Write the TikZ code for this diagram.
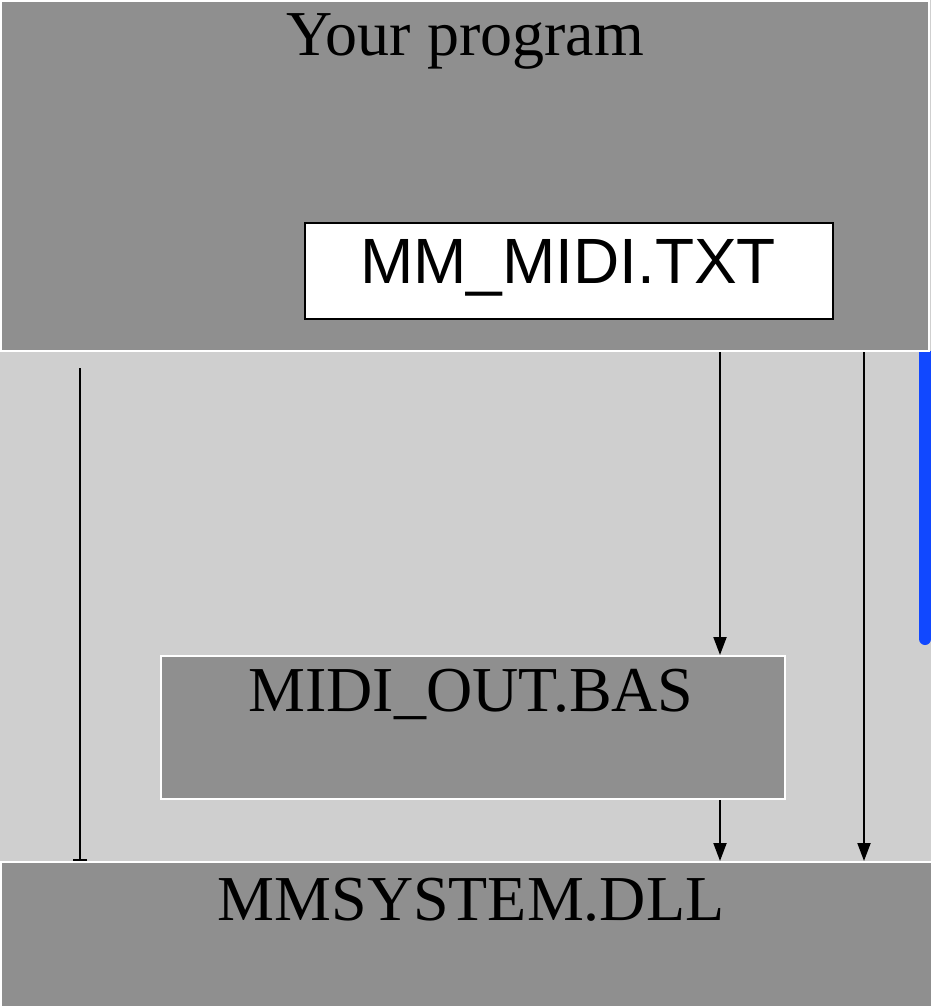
\documentclass[tikz,border=0pt]{standalone}
\usepackage{fontspec}
\setmainfont{Liberation Serif}
\newfontfamily\arialfont{Liberation Sans}
\usetikzlibrary{arrows.meta}
\definecolor{bggray}{HTML}{CFCFCF}
\definecolor{boxgray}{HTML}{8F8F8F}
\definecolor{barblue}{HTML}{1148FF}
\tikzset{
  graybox/.style={draw=white, line width=2pt, fill=boxgray, inner sep=0pt, anchor=north west},
  whitebox/.style={draw=black, line width=2pt, fill=white, inner sep=0pt, anchor=north west},
  serlabel/.style={font=\fontsize{64}{64}\selectfont, anchor=base, inner sep=0pt},
  sanslabel/.style={font=\arialfont\fontsize{64}{64}\selectfont, anchor=base, inner sep=0pt},
  flow/.style={line width=2pt, -{Triangle[length=18pt,width=13pt]}},
  barline/.style={line width=2pt, -{Bar[width=14pt,line width=2pt]}}
}
\begin{document}
\begin{tikzpicture}[x=1pt,y=-1pt]
\useasboundingbox (0,0) rectangle (931,1006);
\fill[bggray] (0,0) rectangle (931,1006);
% blue bar
\fill[barblue, rounded corners=6pt] (919,351) -- (919,645) -- (931,645) -- (931,351) -- cycle;
\fill[barblue] (919,351) rectangle (931,600);
% boxes
\node[graybox, minimum width=928pt, minimum height=350pt] (prog) at (0,0) {};
\node[serlabel] (progtxt) at (465,56) {Your program};
\node[whitebox, minimum width=528pt, minimum height=96pt] (txt) at (304,222) {};
\node[sanslabel] (txttxt) at (568,283) {MM\_MIDI.TXT};
\node[graybox, minimum width=624pt, minimum height=143pt] (bas) at (160,655) {};
\node[serlabel] (bastxt) at (471,711) {MIDI\_OUT.BAS};
\node[graybox, minimum width=931pt, minimum height=146pt] (dll) at (0,861) {};
\node[serlabel] (dlltxt) at (471,920) {MMSYSTEM.DLL};
% connectors
\coordinate (lefttop) at (80,368);
\draw[barline] (lefttop) -- (lefttop |- dll.north);
\coordinate (ax) at (720,0);
\coordinate (bx) at (864,0);
\draw[flow] (prog.south -| ax) -- (bas.north -| ax);
\draw[flow] (bas.south -| ax) -- (dll.north -| ax);
\draw[flow] (prog.south -| bx) -- (dll.north -| bx);
\end{tikzpicture}
\end{document}
